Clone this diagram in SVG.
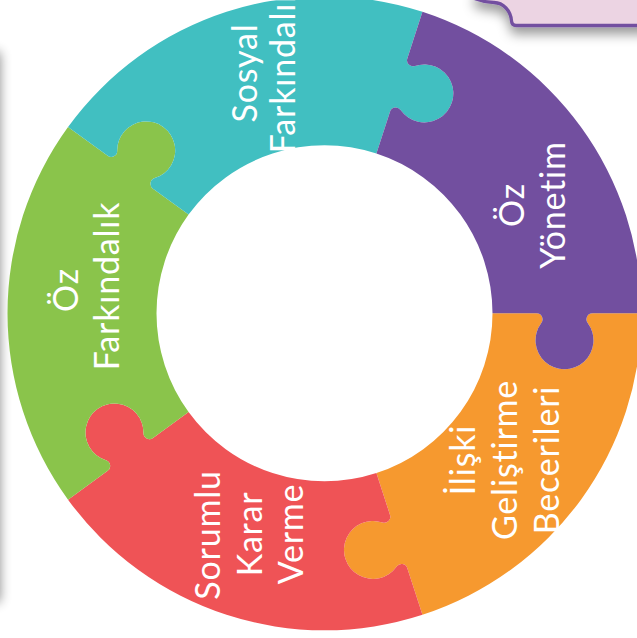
<svg xmlns="http://www.w3.org/2000/svg" xmlns:xlink="http://www.w3.org/1999/xlink" width="637" height="638" viewBox="0 0 637 638">
<style>
.lbl{font-family:"Lato","Open Sans","Liberation Sans",sans-serif;font-weight:400;font-size:34px;letter-spacing:0.8px;fill:#ffffff;text-anchor:middle}
</style>
<defs>
<path id="piece" d="M 168 0 L 212 0 A 6 6 0 0 1 216.8 9.6 A 29 29 0 1 0 263.2 9.6 A 6 6 0 0 1 268 0 L 317 0 A 317 317 0 0 1 97.958 301.485 L 82.817 254.883 A 6 6 0 0 0 72.204 253.285 A 29 29 0 1 1 57.865 209.156 A 6 6 0 0 0 65.512 201.624 L 51.915 159.778 A 168 168 0 0 0 168 0 Z"/>
<filter id="blurL" x="-1" y="-0.2" width="3" height="1.4"><feGaussianBlur stdDeviation="6"/></filter>
<filter id="boxShadow" x="-0.2" y="-0.5" width="1.4" height="3"><feDropShadow dx="0" dy="7" stdDeviation="6" flood-color="#000" flood-opacity="0.4"/></filter>
</defs>
<rect width="637" height="638" fill="#ffffff"/>
<rect x="-30" y="52" width="30" height="550" fill="#000" opacity="0.45" filter="url(#blurL)"/>
<g id="box">
<path d="M 476 -10 L 476 -1 Q 485 2.5 494 2.5 A 18 20 0 0 1 511.5 21 Q 512 25.5 516 25.5 L 650 25.5 L 650 -10 Z" fill="#ECD4E3" stroke="#7350A0" stroke-width="3.3" filter="url(#boxShadow)"/>
</g>
<g id="connectors"/>
<g id="node-orange">
<use xlink:href="#piece" href="#piece" fill="#F6992F" transform="translate(324.5 313.3) rotate(0)"/>
<text class="lbl" transform="translate(475 460) rotate(-90)">İlişki</text>
<text class="lbl" transform="translate(517 460) rotate(-90)">Geliştirme</text>
<text class="lbl" transform="translate(559 460) rotate(-90)">Becerileri</text>
</g>
<g id="node-red">
<use xlink:href="#piece" href="#piece" fill="#EF5356" transform="translate(324.5 313.3) rotate(72)"/>
<text class="lbl" transform="translate(220 535) rotate(-90)">Sorumlu</text>
<text class="lbl" transform="translate(262 534) rotate(-90)">Karar</text>
<text class="lbl" transform="translate(303 534) rotate(-90)">Verme</text>
</g>
<g id="node-green">
<use xlink:href="#piece" href="#piece" fill="#8AC44B" transform="translate(324.5 313.3) rotate(144)"/>
<text class="lbl" transform="translate(78 290) rotate(-90)">Öz</text>
<text class="lbl" transform="translate(119 286) rotate(-90)">Farkındalık</text>
</g>
<g id="node-teal">
<use xlink:href="#piece" href="#piece" fill="#41BFC1" transform="translate(324.5 313.3) rotate(216)"/>
<text class="lbl" transform="translate(257 73) rotate(-90)">Sosyal</text>
<text class="lbl" transform="translate(295 69) rotate(-90)">Farkındalık</text>
</g>
<g id="node-purple">
<use xlink:href="#piece" href="#piece" fill="#724F9F" transform="translate(324.5 313.3) rotate(288)"/>
<text class="lbl" transform="translate(524 205) rotate(-90)">Öz</text>
<text class="lbl" transform="translate(565 205) rotate(-90)">Yönetim</text>
</g>
</svg>
